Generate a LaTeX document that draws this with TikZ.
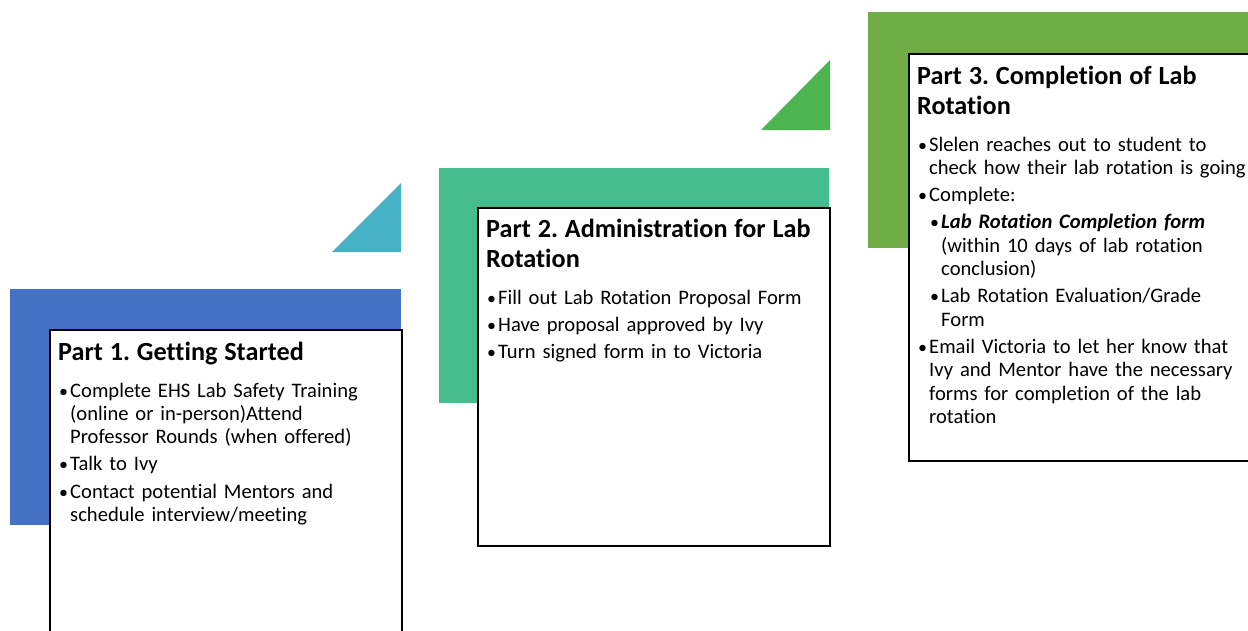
\documentclass[tikz,border=0pt]{standalone}
\usepackage{fontspec}
\setmainfont{Carlito}[Ligatures={NoCommon}]
\usepackage{xcolor}
\usepackage{tikz}
\usetikzlibrary{positioning}

\definecolor{partblue}{HTML}{4472C4}
\definecolor{partteal}{HTML}{46B1C2}
\definecolor{partsea}{HTML}{45BB8E}
\definecolor{partgreen}{HTML}{4CB550}
\definecolor{partlime}{HTML}{70AD47}

\frenchspacing
\newcommand{\bdot}{{\fontsize{18}{18}\selectfont\textbullet}}
\newcommand{\bitem}[1]{\par\hangindent=12pt\hangafter=1\noindent\makebox[12pt][l]{\hspace{1pt}\bdot}#1}
\newcommand{\bsubitem}[1]{\par\hangindent=24pt\hangafter=1\noindent\hspace*{12pt}\makebox[12pt][l]{\hspace{1pt}\bdot}#1}
\newcommand{\parttitle}[1]{{\fontsize{26.2}{30}\selectfont\bfseries #1\par}\vspace{9.7pt}}

\begin{document}
\begin{tikzpicture}
  [x=1pt,y=-1pt,
  backbox/.style={rectangle,inner sep=0pt,anchor=north west},
  whitebox/.style={rectangle,draw=black,fill=white,line width=1.5pt,inner sep=0pt,anchor=north west},
  parttext/.style={inner sep=0pt,anchor=base west,font=\fontsize{20.6}{23.3}\selectfont,
    execute at begin node={\setlength{\parskip}{4pt}}}
  ]
  \useasboundingbox (0,0) rectangle (1248,630);
  \clip (0,0) rectangle (1248,630);
  % step triangles
  \fill[partteal] (332,252) -- (401,252) -- (401,183) -- cycle;
  \fill[partgreen] (761,130) -- (830,130) -- (830,60) -- cycle;
  % part 1
  \node[backbox,fill=partblue,minimum width=391pt,minimum height=236pt] (back1) at (10,289) {};
  \node[whitebox,minimum width=352pt,minimum height=330pt] (box1) at (49,329) {};
  \node[parttext,text width=345pt] (text1) [below right=31pt and 9pt of box1.north west,anchor=base west]
  {\parttitle{Part 1. Getting Started}
   \bitem{Complete EHS Lab Safety Training\newline (online or in-person)Attend\newline Professor Rounds (when offered)}
   \bitem{Talk to Ivy}
   \bitem{Contact potential Mentors and\newline schedule interview/meeting}\par};
  % part 2
  \node[backbox,fill=partsea,minimum width=390pt,minimum height=235pt] (back2) at (439,168) {};
  \node[whitebox,minimum width=352pt,minimum height=338pt] (box2) at (477,207) {};
  \node[parttext,text width=345pt] (text2) [below right=30pt and 9pt of box2.north west,anchor=base west]
  {\parttitle{Part 2. Administration for Lab\newline Rotation}
   \bitem{Fill out Lab Rotation Proposal Form}
   \bitem{Have proposal approved by Ivy}
   \bitem{Turn signed form in to Victoria}\par};
  % part 3
  \node[backbox,fill=partlime,minimum width=400pt,minimum height=236pt] (back3) at (868,12) {};
  \node[whitebox,minimum width=370pt,minimum height=407pt] (box3) at (908,53) {};
  \node[parttext,text width=345pt] (text3) [below right=31pt and 9pt of box3.north west,anchor=base west]
  {\parttitle{Part 3. Completion of Lab\newline Rotation}
   \bitem{Slelen reaches out to student to\newline check how their lab rotation is going}
   \bitem{Complete:}
   \bsubitem{\textbf{\textit{Lab Rotation Completion form}}\newline (within 10 days of lab rotation\newline conclusion)}
   \bsubitem{Lab Rotation Evaluation/Grade\newline Form}
   \bitem{Email Victoria to let her know that\newline Ivy and Mentor have the necessary\newline forms for completion of the lab\newline rotation}\par};
\end{tikzpicture}
\end{document}
